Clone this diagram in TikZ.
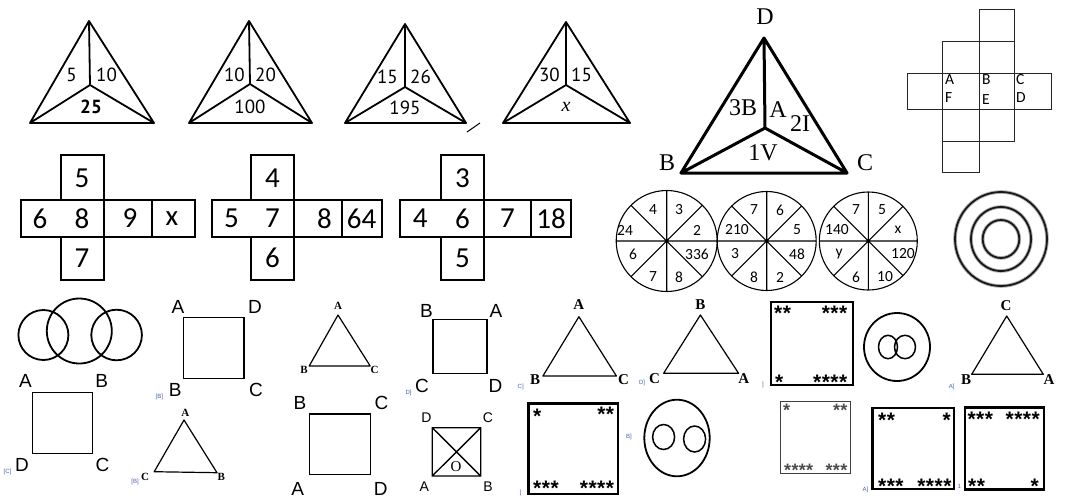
\documentclass[tikz,border=0pt]{standalone}
\usepackage{fontspec}
\setmainfont{Liberation Serif}
\newfontfamily\calf{Carlito}
\newfontfamily\ptf{PT Sans}
\newfontfamily\arf{Liberation Sans}
\definecolor{tinyc}{RGB}{70,95,175}
\begin{document}
\begin{tikzpicture}[x=1pt,y=-1pt,
  lbl/.style={inner sep=0pt},
  tnum/.style={lbl,font=\ptf\fontsize{19}{19}\selectfont},
  gnum/.style={lbl,font=\calf\fontsize{29}{29}\selectfont},
  wnum/.style={lbl,font=\calf\fontsize{15.5}{15.5}\selectfont},
  netl/.style={lbl,font=\calf\fontsize{15.5}{15.5}\selectfont},
  bigl/.style={lbl,font=\fontsize{24}{24}\selectfont},
  sql/.style={lbl,font=\arf\fontsize{19}{19}\selectfont},
  sqs/.style={lbl,font=\arf\fontsize{14}{14}\selectfont},
  trl/.style={lbl,font=\bfseries\fontsize{11}{11}\selectfont},
  trm/.style={lbl,font=\bfseries\fontsize{15}{15}\selectfont},
  stars/.style={lbl,font=\arf\bfseries\fontsize{21}{21}\selectfont},
  sstars/.style={lbl,text=black!70,font=\arf\bfseries\fontsize{18}{18}\selectfont},
  tiny/.style={lbl,font=\arf\fontsize{6}{6}\selectfont,text=tinyc},
  tri/.style={line width=1.8pt,line join=round},
  bigtri/.style={line width=3pt,line join=round},
  net/.style={line width=1pt,draw=black!85},
  grd/.style={line width=2pt},
  wl/.style={line width=1.1pt},
  ring/.style={line width=1.8pt},
  sq/.style={line width=1.4pt},
  stri/.style={line width=1.2pt,line join=round},
  ssq/.style={line width=2.2pt}
]
\useasboundingbox (0,0) rectangle (1073,499);
\fill[white] (0,0) rectangle (1073,499);

% ---------- top small triangles ----------
\coordinate (t1a) at (89,21); \coordinate (t1b) at (30,123); \coordinate (t1c) at (154,123); \coordinate (t1o) at (90,85);
\draw[tri] (t1a)--(t1b)--(t1c)--cycle (t1a)--(t1o) (t1b)--(t1o)--(t1c);
\node[tnum,anchor=east] (t1l) at (77,75) {5};
\node[tnum,anchor=west] (t1r) at (96,75) {10};
\node[tnum,font=\ptf\bfseries\fontsize{19}{19}\selectfont] (t1m) at (91,107) {25};

\coordinate (t2a) at (249,21); \coordinate (t2b) at (189,123); \coordinate (t2c) at (312,123); \coordinate (t2o) at (250,84);
\draw[tri] (t2a)--(t2b)--(t2c)--cycle (t2a)--(t2o) (t2b)--(t2o)--(t2c);
\node[tnum,anchor=east] (t2l) at (245,75) {10};
\node[tnum,anchor=west] (t2r) at (255,75) {20};
\node[tnum] (t2m) at (250,107) {100};

\coordinate (t3a) at (405,24); \coordinate (t3b) at (345,123); \coordinate (t3c) at (466,123); \coordinate (t3o) at (405,87);
\draw[tri] (t3a)--(t3b)--(t3c)--cycle (t3a)--(t3o) (t3b)--(t3o)--(t3c);
\node[tnum,anchor=east] (t3l) at (398,77) {15};
\node[tnum,anchor=west] (t3r) at (410,77) {26};
\node[tnum] (t3m) at (405,108) {195};
\coordinate (sl1) at (467,132); \coordinate (sl2) at (480,123);
\draw[line width=1pt] (sl1)--(sl2);

\coordinate (t4a) at (566,22); \coordinate (t4b) at (503,123); \coordinate (t4c) at (630,123); \coordinate (t4o) at (566,85);
\draw[tri] (t4a)--(t4b)--(t4c)--cycle (t4a)--(t4o) (t4b)--(t4o)--(t4c);
\node[tnum,anchor=east] (t4l) at (560,75) {30};
\node[tnum,anchor=west] (t4r) at (571,75) {15};
\node[lbl,font=\itshape\fontsize{20}{20}\selectfont] (t4m) at (566,107) {x};

% ---------- big triangle ----------
\coordinate (bD) at (764,38); \coordinate (bB) at (681,173); \coordinate (bC) at (847,173); \coordinate (bO) at (765,128);
\draw[bigtri] (bD)--(bB)--(bC)--cycle (bD)--(bO) (bB)--(bO)--(bC);
\node[bigl] (lD) at (765,17) {D};
\node[bigl] (lB) at (667,163) {B};
\node[bigl] (lC) at (865,163) {C};
\node[bigl] (l3B) at (743,108) {3B};
\node[bigl] (lA) at (778,110) {A};
\node[bigl] (l2I) at (800,124) {2I};
\node[bigl] (l1V) at (763,153) {1V};

% ---------- net ----------
\draw[net] (979,9) rectangle (1014,41);
\draw[net] (942,41) rectangle (979,73); \draw[net] (979,41) rectangle (1014,73);
\draw[net] (907,73) rectangle (942,109); \draw[net] (942,73) rectangle (979,109);
\draw[net] (979,73) rectangle (1014,109); \draw[net] (1014,73) rectangle (1051,109);
\draw[net] (942,109) rectangle (979,141); \draw[net] (979,109) rectangle (1014,141);
\draw[net] (942,141) rectangle (979,172);
\node[netl,anchor=west] (nA) at (945,80) {A};
\node[netl,anchor=west] (nF) at (945,98) {F};
\node[netl,anchor=west] (nB) at (982,80) {B};
\node[netl,anchor=west] (nE) at (982,100) {E};
\node[netl,anchor=west] (nC) at (1016,80) {C};
\node[netl,anchor=west] (nDD) at (1016,98) {D};

% ---------- cross grids ----------
\draw[grd] (61,155) rectangle (104,200) (21,200) rectangle (195.4,237) (61,237) rectangle (104,280)
  (104,200)--(104,237) (151.5,200)--(151.5,237);
\node[gnum] (g1a) at (82,178) {5};
\node[gnum] (g1b) at (40,218.5) {6};
\node[gnum] (g1c) at (82,218.5) {8};
\node[gnum] (g1d) at (130,218.5) {9};
\node[gnum] (g1e) at (172,218.5) {x};
\node[gnum] (g1f) at (82,258) {7};

\draw[grd] (251,155) rectangle (294,200) (212,200) rectangle (381.7,237) (251,237) rectangle (294,280)
  (294,200)--(294,237) (341.6,200)--(341.6,237);
\node[gnum] (g2a) at (272.5,178) {4};
\node[gnum] (g2b) at (231.5,218.5) {5};
\node[gnum] (g2c) at (272.5,218.5) {7};
\node[gnum] (g2d) at (324.4,218.5) {8};
\node[gnum] (g2e) at (361.6,218.5) {64};
\node[gnum] (g2f) at (272.5,258) {6};

\draw[grd] (440.8,155) rectangle (484,200) (399.6,200) rectangle (571.4,237) (440.8,237) rectangle (484,280)
  (484,200)--(484,237) (530.5,200)--(530.5,237);
\node[gnum] (g3a) at (462.4,178) {3};
\node[gnum] (g3b) at (420.2,218.5) {4};
\node[gnum] (g3c) at (462.4,218.5) {6};
\node[gnum] (g3d) at (507.5,218.5) {7};
\node[gnum] (g3e) at (551,218.5) {18};
\node[gnum] (g3f) at (462.4,258) {5};

% ---------- wheels ----------
\coordinate (w1) at (666.7,241); \coordinate (w2) at (766.7,241); \coordinate (w3) at (868.3,241);
\draw[wl] (w1) circle[radius=50.5] ([shift={(0:50.5)}]w1)--([shift={(180:50.5)}]w1)
  ([shift={(90:50.5)}]w1)--([shift={(270:50.5)}]w1) ([shift={(45:50.5)}]w1)--([shift={(225:50.5)}]w1)
  ([shift={(135:50.5)}]w1)--([shift={(315:50.5)}]w1);
\draw[wl] (w2) circle[radius=49.5] ([shift={(0:49.5)}]w2)--([shift={(180:49.5)}]w2)
  ([shift={(90:49.5)}]w2)--([shift={(270:49.5)}]w2) ([shift={(45:49.5)}]w2)--([shift={(225:49.5)}]w2)
  ([shift={(135:49.5)}]w2)--([shift={(315:49.5)}]w2);
\draw[wl] (w3) circle[radius=49] ([shift={(0:49)}]w3)--([shift={(180:49)}]w3)
  ([shift={(90:49)}]w3)--([shift={(270:49)}]w3) ([shift={(45:49)}]w3)--([shift={(225:49)}]w3)
  ([shift={(135:49)}]w3)--([shift={(315:49)}]w3);
\fill (w1) circle[radius=1.5]; \fill (w2) circle[radius=1.5]; \fill (w3) circle[radius=1.5];
\node[wnum] (w1a) at (653,210) {4};   \node[wnum] (w1b) at (679,210) {3};
\node[wnum] (w1c) at (625,230) {24};  \node[wnum] (w1d) at (697,230) {2};
\node[wnum] (w1e) at (633,254) {6};   \node[wnum] (w1f) at (697,254) {336};
\node[wnum] (w1g) at (653,277) {7};   \node[wnum] (w1h) at (679,277) {8};
\node[wnum] (w2a) at (754,210) {7};   \node[wnum] (w2b) at (780,210) {6};
\node[wnum] (w2c) at (737,230) {210}; \node[wnum] (w2d) at (797,230) {5};
\node[wnum] (w2e) at (735,254) {3};   \node[wnum] (w2f) at (797,254) {48};
\node[wnum] (w2g) at (754,277) {8};   \node[wnum] (w2h) at (780,277) {2};
\node[wnum] (w3a) at (856,210) {7};   \node[wnum] (w3b) at (882,210) {5};
\node[wnum] (w3c) at (837,230) {140}; \node[wnum] (w3d) at (898,230) {x};
\node[wnum] (w3e) at (839,254) {y};   \node[wnum] (w3f) at (903,254) {120};
\node[wnum] (w3g) at (856,277) {6};   \node[wnum] (w3h) at (885,277) {10};

% ---------- concentric rings ----------
\coordinate (cc) at (1001,239);
\draw[line width=3.6pt,black!30] (cc) ellipse[x radius=46,y radius=47] (cc) ellipse[x radius=30,y radius=32] (cc) ellipse[x radius=18.3,y radius=19];
\draw[line width=1.8pt,black!90] (cc) ellipse[x radius=46,y radius=47] (cc) ellipse[x radius=30,y radius=32] (cc) ellipse[x radius=18.3,y radius=19];

% ---------- three overlapping circles ----------
\coordinate (oc1) at (43.4,335); \coordinate (oc2) at (79.3,331); \coordinate (oc3) at (116.6,335);
\draw[ring] (oc1) circle[radius=25] (oc2) circle[radius=32.5] (oc3) circle[radius=25.3];

% ---------- bottom-left squares and triangles ----------
\draw[sq] (183.7,317.7) rectangle (244,378.3);
\node[sql] (s1A) at (178,307) {A}; \node[sql] (s1D) at (255,307) {D};
\node[sql] (s1B) at (175.3,390) {B}; \node[sql] (s1C) at (256,390) {C};
\node[tiny] (x1) at (159.3,397) {[B]};

\coordinate (r1A) at (338,315); \coordinate (r1B) at (309.2,366); \coordinate (r1C) at (370.2,366);
\draw[stri] (r1A)--(r1B)--(r1C)--cycle;
\node[trl] (r1a) at (338,306) {A}; \node[trl] (r1b) at (304,370) {B}; \node[trl] (r1c) at (374.6,370) {C};

\draw[sq] (432.9,319.3) rectangle (487.1,373.3);
\node[sql] (s2B) at (426.4,311) {B}; \node[sql] (s2A) at (496,311) {A};
\node[sql] (s2C) at (422,386) {C}; \node[sql] (s2D) at (495.6,386) {D};
\node[tiny] (x2) at (408.5,393) {D]};

\draw[sq] (32.2,392.3) rectangle (92.2,453.3);
\node[sql] (s3A) at (25.4,381) {A}; \node[sql] (s3B) at (101.7,381) {B};
\node[sql] (s3D) at (22,465) {D}; \node[sql] (s3C) at (102.4,465) {C};
\node[tiny] (x3) at (7.5,472) {[C]};

\coordinate (r2A) at (184,420); \coordinate (r2C) at (154.2,471.7); \coordinate (r2B) at (217,472.7);
\draw[stri] (r2A)--(r2C)--(r2B)--cycle;
\node[trl] (r2a) at (185.4,413.3) {A}; \node[trl] (r2c) at (145,477.3) {C}; \node[trl] (r2b) at (221.4,477.3) {B};
\node[tiny] (x4) at (135,481.7) {[B]};

\draw[sq] (309.2,414) rectangle (370.5,474.3);
\node[sql] (s4B) at (300,403.3) {B}; \node[sql] (s4C) at (381.4,403.3) {C};
\node[sql] (s4A) at (297.6,489) {A}; \node[sql] (s4D) at (380.7,489) {D};

\draw[sq] (432.2,427.7) rectangle (480.7,476) (432.2,427.7)--(480.7,476) (480.7,427.7)--(432.2,476);
\node[sqs,font=\fontsize{15}{15}\selectfont] (s5O) at (456,466.7) {O};
\node[sqs] (s5D) at (426.4,417.7) {D}; \node[sqs] (s5C) at (488,417.7) {C};
\node[sqs] (s5A) at (424.4,486.7) {A}; \node[sqs] (s5B) at (488,486.7) {B};

% ---------- bottom-right triangles ----------
\coordinate (r3A) at (578.9,316.7); \coordinate (r3B) at (542.9,376); \coordinate (r3C) at (616.4,376);
\draw[stri] (r3A)--(r3B)--(r3C)--cycle;
\node[trm] (r3a) at (578.9,305) {A}; \node[trm] (r3b) at (535,380) {B}; \node[trm] (r3c) at (623.6,380) {C};
\node[tiny] (x5) at (520.7,386.7) {C]};

\coordinate (r4B) at (700.4,315); \coordinate (r4C) at (663.6,373.3); \coordinate (r4A) at (738.6,373.3);
\draw[stri] (r4B)--(r4C)--(r4A)--cycle;
\node[trm] (r4b) at (700.4,305) {B}; \node[trm] (r4c) at (654.6,378.3) {C}; \node[trm] (r4a) at (743.9,378.3) {A};
\node[tiny] (x6) at (642,383) {D]};

\coordinate (r5C) at (1006.7,316); \coordinate (r5B) at (971.7,374.3); \coordinate (r5A) at (1043.3,374.3);
\draw[stri] (r5C)--(r5B)--(r5A)--cycle;
\node[trm] (r5c) at (1006,306) {C}; \node[trm] (r5b) at (966,379.3) {B}; \node[trm] (r5a) at (1049,379.3) {A};
\node[tiny] (x7) at (951.7,386.7) {A]};

% ---------- circles with inner rings ----------
\coordinate (e1) at (897,347);
\draw[ring] (e1) ellipse[x radius=33,y radius=34];
\draw[line width=1.5pt] (888,347) ellipse[x radius=9.5,y radius=11.7] (905,347) ellipse[x radius=10.5,y radius=11.7];
\coordinate (e2) at (677,438);
\draw[ring] (e2) ellipse[x radius=32.7,y radius=38.3];
\draw[line width=1.5pt] (663.6,437) ellipse[x radius=11,y radius=12.5] (694.6,439) ellipse[x radius=11,y radius=13];

% ---------- star squares ----------
\draw[ssq] (770.7,301.7) rectangle (852.9,385);
\node[stars,anchor=north west] (q1a) at (774,305.5) {*\kern0.5pt*};
\node[stars,anchor=north east] (q1b) at (847.5,305.5) {*\kern0.5pt*\kern0.5pt*};
\node[stars,anchor=north west] (q1c) at (775,375) {*};
\node[stars,anchor=north east] (q1d) at (847.5,375) {*\kern0.5pt*\kern0.5pt*\kern0.5pt*};
\node[tiny] (x8) at (762.9,385) {]};

\draw[line width=2.5pt] (528.6,403.3) rectangle (618.2,494);
\node[stars,anchor=north west] (q2a) at (533,408.8) {*};
\node[stars,anchor=north east] (q2b) at (614.3,406.5) {*\kern0.5pt*};
\node[stars,anchor=north west] (q2c) at (533,480.5) {*\kern0.5pt*\kern0.5pt*};
\node[stars,anchor=north east] (q2d) at (614.3,480.5) {*\kern0.5pt*\kern0.5pt*\kern0.5pt*};
\node[tiny] (x9) at (629,437) {B]};
\node[tiny] (x10) at (520.7,493) {]};

\draw[line width=1.5pt,black!75] (780.4,401.7) rectangle (850.4,473.3);
\node[sstars,anchor=north west] (q3a) at (783,404) {*};
\node[sstars,anchor=north east] (q3b) at (847.5,404) {*\kern0.3pt*};
\node[sstars,anchor=north west] (q3c) at (784,463.5) {*\kern0.3pt*\kern0.3pt*\kern0.3pt*};
\node[sstars,anchor=north east] (q3d) at (847.5,463.5) {*\kern0.3pt*\kern0.3pt*};

\draw[ssq] (872.5,408) rectangle (954,489);
\node[stars,anchor=north west] (q4a) at (877.9,413.2) {*\kern0.5pt*};
\node[stars,anchor=north east] (q4b) at (951,413.2) {*};
\node[stars,anchor=north west] (q4c) at (877.9,478.5) {*\kern0.5pt*\kern0.5pt*};
\node[stars,anchor=north east] (q4d) at (951.7,478.5) {*\kern0.5pt*\kern0.5pt*\kern0.5pt*};
\node[tiny] (x11) at (865.4,490) {A]};
\node[tiny] (x12) at (959.3,486.7) {1};

\draw[line width=2.5pt] (965,407.3) rectangle (1044,489.3);
\node[stars,anchor=north west] (q5a) at (967.3,412.2) {*\kern0.5pt*\kern0.5pt*};
\node[stars,anchor=north east] (q5b) at (1040,412.2) {*\kern0.5pt*\kern0.5pt*\kern0.5pt*};
\node[stars,anchor=north west] (q5c) at (968,478.5) {*\kern0.5pt*};
\node[stars,anchor=north east] (q5d) at (1039,478.5) {*};
\end{tikzpicture}
\end{document}
